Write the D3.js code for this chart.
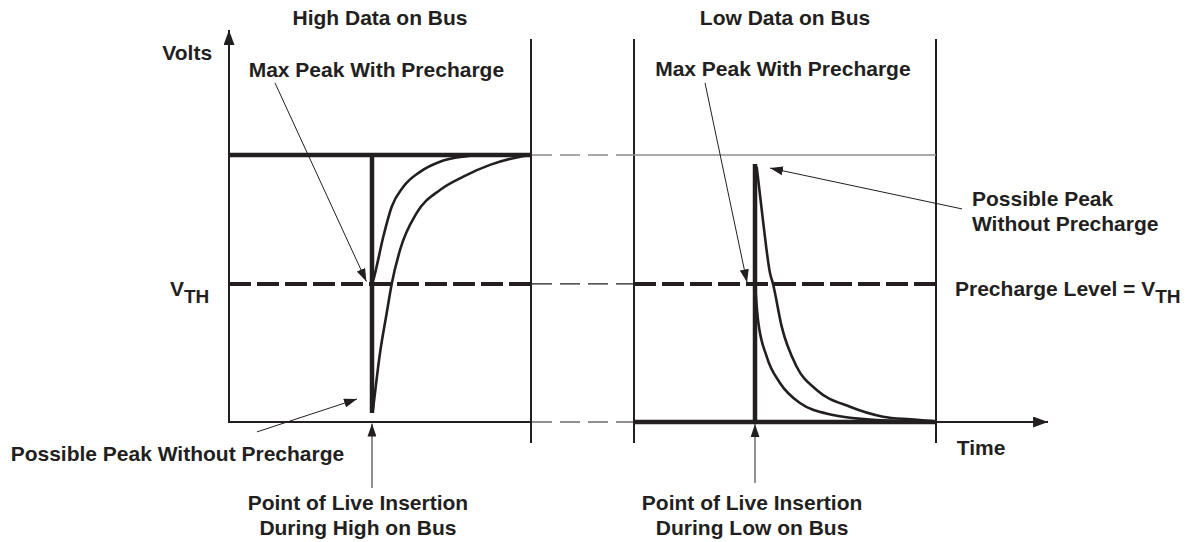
<!DOCTYPE html>
<html><head><meta charset="utf-8">
<script src="https://cdn.jsdelivr.net/npm/d3@7"></script>
<style>
html,body{margin:0;padding:0;background:#fff;}
svg{display:block;}
text{font-family:"Liberation Sans",Arial,Helvetica,sans-serif;font-weight:bold;font-size:21px;fill:#231f20;}
</style></head><body><svg id="c" width="1194" height="542"></svg>
<script>
// ---------------- data (time in panel units 0..10, voltage normalised: 0 = low, 1 = high) -------------
const panelTitles = ["High Data on Bus", "Low Data on Bus"];
const levelValues = { low: 0, vth: 0.517, high: 1 };
const insertionTimes = [4.735, 4.007];
const insertionSpikeEnds = [0.034, 0.966];     // left spike drops to near 0, right spike rises to near high

const leftFastT = [4.735, 4.778, 5.109, 5.387, 5.772, 6.325, 6.987, 7.758, 8.311];
const leftFastV = [0.517, 0.532, 0.694, 0.806, 0.881, 0.937, 0.975, 0.994, 1.0];
const leftSlowT = [4.768, 5.0, 5.222, 5.387, 5.662, 6.215, 6.987, 7.758, 8.642, 9.526, 9.967];
const leftSlowV = [0.045, 0.258, 0.408, 0.517, 0.644, 0.783, 0.869, 0.919, 0.963, 0.991, 1.0];
const rightFastT = [4.007, 4.106, 4.394, 4.834, 5.497, 6.589, 7.705, 8.808];
const rightFastV = [0.517, 0.382, 0.245, 0.146, 0.071, 0.026, 0.010, 0.004];
const rightSlowT = [4.063, 4.281, 4.503, 4.603, 4.891, 5.387, 6.050, 7.152, 8.245, 9.139, 9.9];
const rightSlowV = [0.956, 0.745, 0.558, 0.517, 0.357, 0.207, 0.120, 0.057, 0.020, 0.010, 0.004];

const frameRange = [-0.079, 1.434];   // panel border verticals
const voltsAxisTop = 1.468;
const timeAxisEnd = 13.71;            // in right-panel units

const annotations = [
  { panel: 0, from: [1.523, 1.270], to: [4.55, 0.526] },
  { panel: 0, from: [0.927, -0.037], to: [4.238, 0.086] },
  { panel: 0, from: [4.735, -0.247], to: [4.735, -0.006] },
  { panel: 1, from: [2.351, 1.270], to: [3.742, 0.523] },
  { panel: 1, from: [10.861, 0.798], to: [4.503, 0.951] },
  { panel: 1, from: [4.007, -0.228], to: [4.007, -0.008] }
];

const labels = [
  { panel: 0, t: 5, v: 1.487, anchor: "middle", lines: [panelTitles[0]] },
  { panel: 1, t: 5, v: 1.487, anchor: "middle", lines: [panelTitles[1]] },
  { panel: 0, t: -0.56, v: 1.356, anchor: "end", lines: ["Volts"] },
  { panel: 0, t: 4.88, v: 1.292, anchor: "middle", lines: ["Max Peak With Precharge"] },
  { panel: 1, t: 4.93, v: 1.296, anchor: "middle", lines: ["Max Peak With Precharge"] },
  { panel: 0, t: -7.23, v: -0.146, anchor: "start", lines: ["Possible Peak Without Precharge"] },
  { panel: 1, t: 11.19, v: 0.808, anchor: "start", lines: ["Possible Peak", "Without Precharge"] },
  { panel: 0, t: 4.27, v: -0.330, anchor: "middle", lines: ["Point of Live Insertion", "During High on Bus"] },
  { panel: 1, t: 3.91, v: -0.330, anchor: "middle", lines: ["Point of Live Insertion", "During Low on Bus"] },
  { panel: 1, t: 10.69, v: -0.124, anchor: "start", lines: ["Time"] }
];
const vthLabels = [
  { panel: 0, t: -1.954, v: 0.472, main: "V", sub: "TH" },
  { panel: 1, t: 10.63, v: 0.472, main: "Precharge Level = V", sub: "TH" }
];

// ---------------- drawing -------------
const ink = "#231f20", grey = "#8c8c8c";
const svg = d3.select("#c");
const y = d3.scaleLinear().domain([0, 1]).range([422, 155]);
const xs = [
  d3.scaleLinear().domain([0, 10]).range([229, 531]),
  d3.scaleLinear().domain([0, 10]).range([634, 936])
];

const defs = svg.append("defs");
function marker(id, len, wid) {
  defs.append("marker").attr("id", id).attr("markerUnits", "userSpaceOnUse")
    .attr("markerWidth", len).attr("markerHeight", wid)
    .attr("refX", len).attr("refY", wid / 2).attr("orient", "auto")
    .append("path").attr("d", `M0,0L${len},${wid / 2}L0,${wid}Z`).attr("fill", ink);
}
marker("ah", 13, 9);
marker("axh", 15, 11);

function seg(x1, y1, x2, y2, w, col, dash, mk) {
  const l = svg.append("line").attr("x1", x1).attr("y1", y1).attr("x2", x2).attr("y2", y2)
    .attr("stroke", col).attr("stroke-width", w);
  if (dash) l.attr("stroke-dasharray", dash);
  if (mk) l.attr("marker-end", `url(#${mk})`);
  return l;
}

const xL = xs[0], xR = xs[1];
// panel frames
[xL(10), xR(0), xR(10)].forEach(px => seg(px, y(frameRange[0]), px, y(frameRange[1]), 2, ink));
// volts axis
seg(xL(0), y(0) + 1, xL(0), y(voltsAxisTop), 2, ink, null, "axh");
// left panel levels
seg(xL(0), y(levelValues.low), xL(10), y(levelValues.low), 2, ink);
seg(xL(0), y(levelValues.high), xL(10), y(levelValues.high), 4.5, ink);
seg(xL(0), y(levelValues.vth), xL(10), y(levelValues.vth), 4, ink, "22 6");
// between-panel connectors
seg(xL(10) + 1, y(levelValues.high), xR(0), y(levelValues.high), 1.5, grey, "20 8");
seg(xL(10) + 1, y(levelValues.vth), xR(0), y(levelValues.vth), 1.2, ink, "20 8");
seg(xL(10) + 1, y(levelValues.low), xR(0), y(levelValues.low), 1.2, ink, "20 8");
// right panel levels
seg(xR(0), y(levelValues.high), xR(10), y(levelValues.high), 1.5, grey);
seg(xR(0), y(levelValues.vth), xR(10), y(levelValues.vth), 4, ink, "22 6");
seg(xR(0), y(levelValues.low), xR(10), y(levelValues.low), 4.5, ink);
seg(xR(10), y(levelValues.low), xR(timeAxisEnd), y(levelValues.low), 2, ink, null, "axh");

// insertion spikes
seg(xL(insertionTimes[0]), y(levelValues.high), xL(insertionTimes[0]), y(insertionSpikeEnds[0]), 4.5, ink);
seg(xR(insertionTimes[1]), y(levelValues.low), xR(insertionTimes[1]), y(insertionSpikeEnds[1]), 4.5, ink);

// curves
const curves = [
  { panel: 0, t: leftFastT, v: leftFastV },
  { panel: 0, t: leftSlowT, v: leftSlowV },
  { panel: 1, t: rightFastT, v: rightFastV },
  { panel: 1, t: rightSlowT, v: rightSlowV }
];
curves.forEach(c => {
  const x = xs[c.panel];
  const pts = c.t.map((t, i) => [t, c.v[i]]);
  svg.append("path").attr("d", d3.line().x(d => x(d[0])).y(d => y(d[1])).curve(d3.curveMonotoneX)(pts))
    .attr("fill", "none").attr("stroke", ink).attr("stroke-width", 2.6);
});

// annotation arrows
annotations.forEach(a => {
  const x = xs[a.panel];
  seg(x(a.from[0]), y(a.from[1]), x(a.to[0]), y(a.to[1]), 1, ink, null, "ah");
});

// labels
labels.forEach(l => {
  const x = xs[l.panel];
  const t = svg.append("text").attr("x", x(l.t)).attr("y", y(l.v)).attr("text-anchor", l.anchor);
  l.lines.forEach((s, i) => t.append("tspan").attr("x", x(l.t)).attr("dy", i === 0 ? 0 : 25).text(s));
});
vthLabels.forEach(l => {
  const x = xs[l.panel];
  const t = svg.append("text").attr("x", x(l.t)).attr("y", y(l.v));
  t.append("tspan").text(l.main);
  t.append("tspan").attr("dy", 7).style("font-size", "19px").text(l.sub);
});
</script></body></html>
